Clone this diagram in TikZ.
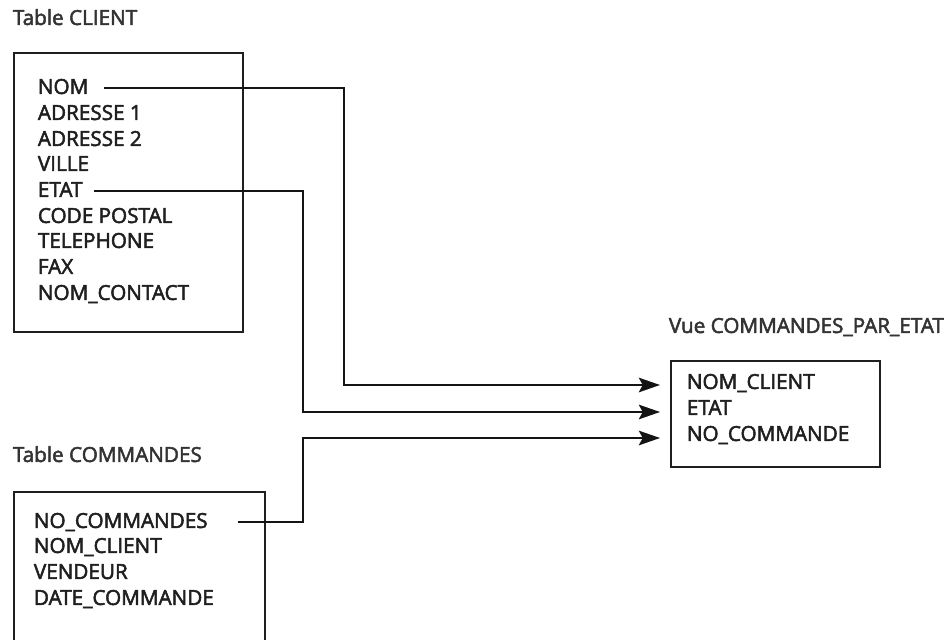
\documentclass[tikz,border=0pt]{standalone}
\usepackage{fontspec}
\setmainfont{Open Sans}
\newfontfamily\fieldfont[FakeBold=2.5]{Open Sans}
\usetikzlibrary{arrows.meta}

\begin{document}
\begin{tikzpicture}[x=0.0265cm,y=-0.0265cm,>={Stealth[length=16pt,width=11pt,inset=3pt]},line width=1.4pt]
\tikzset{field/.style = {anchor=west, inner sep=0pt, text height=11pt, text depth=2pt, font=\fieldfont\fontsize{15.6}{18}\selectfont, text=black!88},
         title/.style = {field, text=black!80},
         table/.style = {draw=black!88, line width=1.5pt},
         link/.style = {draw=black!92, line width=1.4pt}}
\useasboundingbox (0,0) rectangle (952,640);

%table CLIENT
\node[title] (tclient) at (12,19) {Table CLIENT};
\draw[table] (14,53) rectangle (243,332);
\node[field] (nom) at (37,88) {NOM};
\node[field] (adr1) at (37,114) {ADRESSE 1};
\node[field] (adr2) at (37,140) {ADRESSE 2};
\node[field] (ville) at (37,165) {VILLE};
\node[field] (etat) at (37,191) {ETAT};
\node[field] (cp) at (37,217) {CODE POSTAL};
\node[field] (tel) at (37,242) {TELEPHONE};
\node[field] (fax) at (37,268) {FAX};
\node[field] (contact) at (37,294) {NOM\_CONTACT};

%table COMMANDES
\node[title] (tcmd) at (12,456) {Table COMMANDES};
\draw[table] (14,492) rectangle (265,645);
\node[field] (nocmd) at (33,522) {NO\_COMMANDES};
\node[field] (nomcli) at (33,547) {NOM\_CLIENT};
\node[field] (vendeur) at (33,573) {VENDEUR};
\node[field] (datecmd) at (33,599) {DATE\_COMMANDE};

%vue
\node[title] (tvue) at (668,327) {Vue COMMANDES\_PAR\_ETAT};
\draw[table] (671,361) rectangle (880,467);
\node[field] (vnom) at (686,383) {NOM\_CLIENT};
\node[field] (vetat) at (686,409) {ETAT};
\node[field] (vno) at (686,435) {NO\_COMMANDE};
\coordinate (invnom) at (660,385);
\coordinate (invetat) at (660,412);
\coordinate (invno) at (660,438);

%links
\draw[link,->] ([xshift=11pt]nom.east) -| (344,300) |- (invnom);
\draw[link,->] ([xshift=8pt]etat.east) -| (303,300) |- (invetat);
\draw[link,->] ([xshift=22pt]nocmd.east) -| (303,480) |- (invno);

\end{tikzpicture}
\end{document}
